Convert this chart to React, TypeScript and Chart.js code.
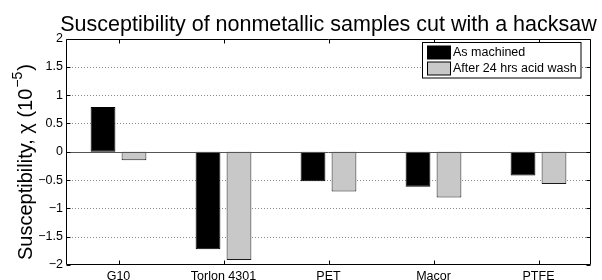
import React, { useEffect, useRef } from "react";
import { Chart, registerables } from "chart.js";

Chart.register(...registerables);

const categories = ["G10", "Torlon 4301", "PET", "Macor", "PTFE"];
const asMachined = [0.79, -1.72, -0.52, -0.62, -0.42];
const afterAcidWash = [-0.15, -1.91, -0.7, -0.81, -0.57];
const seriesLabels = ["As machined", "After 24 hrs acid wash"];
const yTicks = [-2, -1.5, -1, -0.5, 0, 0.5, 1, 1.5, 2];
const titleText = "Susceptibility of nonmetallic samples cut with a hacksaw";
const yLabelMain = "Susceptibility, \u03C7 (10";
const yLabelSup = "\u22125";
const yLabelEnd = ")";

const FONT = '"Liberation Sans", Arial, Helvetica, sans-serif';

const fmt = (v: number) => (v < 0 ? "\u2212" + String(-v) : String(v));

const decorPlugin = {
  id: "decor",
  beforeDatasetsDraw(chart: any) {
    const { ctx, chartArea } = chart;
    const y = chart.scales.y;
    ctx.save();
    ctx.strokeStyle = "#8a8a8a";
    ctx.lineWidth = 1;
    ctx.setLineDash([1, 2]);
    yTicks.forEach((t) => {
      if (t === 0 || t === yTicks[0] || t === yTicks[yTicks.length - 1]) return;
      const py = Math.round(y.getPixelForValue(t)) + 0.5;
      ctx.beginPath();
      ctx.moveTo(chartArea.left, py);
      ctx.lineTo(chartArea.right, py);
      ctx.stroke();
    });
    ctx.restore();
  },
  afterDatasetsDraw(chart: any) {
    const { ctx, chartArea } = chart;
    const x = chart.scales.x;
    const y = chart.scales.y;
    const L = Math.round(chartArea.left) + 0.5;
    const R = Math.round(chartArea.right) - 0.5;
    const T = Math.round(chartArea.top) + 0.5;
    const B = Math.round(chartArea.bottom) - 0.5;
    ctx.save();
    // zero line
    ctx.strokeStyle = "#555";
    ctx.lineWidth = 1;
    const zy = Math.round(y.getPixelForValue(0)) + 0.5;
    ctx.beginPath();
    ctx.moveTo(L, zy);
    ctx.lineTo(R, zy);
    ctx.stroke();
    // frame
    ctx.strokeStyle = "#000";
    ctx.beginPath();
    ctx.rect(L, T, R - L, B - T);
    ctx.stroke();
    // ticks
    const tl = 4;
    yTicks.forEach((t) => {
      const py = Math.round(y.getPixelForValue(t)) + 0.5;
      ctx.beginPath();
      ctx.moveTo(L, py);
      ctx.lineTo(L + tl, py);
      ctx.moveTo(R, py);
      ctx.lineTo(R - tl, py);
      ctx.stroke();
    });
    categories.forEach((_, i) => {
      const px = Math.round(x.getPixelForTick(i)) + 0.5;
      ctx.beginPath();
      ctx.moveTo(px, B);
      ctx.lineTo(px, B - tl);
      ctx.moveTo(px, T);
      ctx.lineTo(px, T + tl);
      ctx.stroke();
    });
    ctx.restore();
  },
  afterDraw(chart: any) {
    const { ctx } = chart;
    ctx.save();
    // title
    ctx.fillStyle = "#000";
    ctx.font = `21.5px ${FONT}`;
    ctx.textAlign = "center";
    ctx.textBaseline = "alphabetic";
    const ca = chart.chartArea;
    ctx.fillText(titleText, (ca.left + ca.right) / 2, 31);
    // y label
    ctx.save();
    ctx.translate(31.5, 260);
    ctx.rotate(-Math.PI / 2);
    ctx.textAlign = "left";
    ctx.font = `20px ${FONT}`;
    ctx.fillText(yLabelMain, 0, 0);
    let w = ctx.measureText(yLabelMain).width;
    ctx.font = `14px ${FONT}`;
    ctx.fillText(yLabelSup, w + 1, -10);
    w += ctx.measureText(yLabelSup).width + 2;
    ctx.font = `20px ${FONT}`;
    ctx.fillText(yLabelEnd, w, 0);
    ctx.restore();
    // legend
    const lx = 422.5, ly = 42.5, lw = 158.5, lh = 35.5;
    ctx.fillStyle = "#fff";
    ctx.fillRect(lx, ly, lw, lh);
    ctx.strokeStyle = "#000";
    ctx.lineWidth = 1;
    ctx.strokeRect(lx, ly, lw, lh);
    const ds = chart.data.datasets;
    const rows = [52.5, 68.5];
    ctx.font = `12.5px ${FONT}`;
    ctx.textBaseline = "middle";
    ctx.textAlign = "left";
    ds.forEach((d: any, i: number) => {
      const cy = rows[i];
      ctx.fillStyle = d.backgroundColor;
      ctx.fillRect(427.5, cy - 6.5, 23, 13);
      ctx.strokeStyle = "#000";
      ctx.strokeRect(427.5, cy - 6.5, 23, 13);
      ctx.fillStyle = "#000";
      ctx.fillText(d.label, 453, cy + 0.5);
    });
    ctx.restore();
  },
};

export default function App() {
  const ref = useRef<HTMLCanvasElement>(null);
  useEffect(() => {
    if (!ref.current) return;
    const chart = new Chart(ref.current, {
      type: "bar",
      data: {
        labels: categories,
        datasets: [
          {
            label: seriesLabels[0],
            data: asMachined,
            backgroundColor: "#000000",
            borderColor: "#000000",
            borderWidth: 1,
            borderSkipped: false,
          },
          {
            label: seriesLabels[1],
            data: afterAcidWash,
            backgroundColor: "#c8c8c8",
            borderColor: "#1a1a1a",
            borderWidth: 1,
            borderSkipped: false,
          },
        ],
      },
      options: {
        responsive: false,
        animation: false,
        devicePixelRatio: 1,
        layout: { padding: { top: 38.5, right: 11, left: 0, bottom: 0 } },
        datasets: { bar: { categoryPercentage: 0.59, barPercentage: 0.8 } },
        plugins: {
          legend: { display: false },
          title: { display: false },
          tooltip: { enabled: false },
        },
        scales: {
          x: {
            grid: { display: false, drawTicks: false },
            border: { display: false },
            ticks: {
              color: "#000",
              font: { family: FONT, size: 12.5 },
              padding: 4,
              maxRotation: 0,
              autoSkip: false,
            },
            afterFit: (s: any) => {
              s.height = 15;
            },
          },
          y: {
            min: -2,
            max: 2,
            grid: { display: false, drawTicks: false },
            border: { display: false },
            afterBuildTicks: (s: any) => {
              s.ticks = yTicks.map((v) => ({ value: v }));
            },
            ticks: {
              color: "#000",
              font: { family: FONT, size: 12.5 },
              padding: 3,
              callback: (v: any) => fmt(Number(v)),
            },
            afterFit: (s: any) => {
              s.width = 66;
            },
          },
        },
      },
      plugins: [decorPlugin],
    });
    return () => chart.destroy();
  }, []);
  return (
    <div style={{ position: "absolute", left: 0, top: 0, width: 602, height: 280, background: "#fff" }}>
      <canvas ref={ref} width={602} height={280} />
    </div>
  );
}
